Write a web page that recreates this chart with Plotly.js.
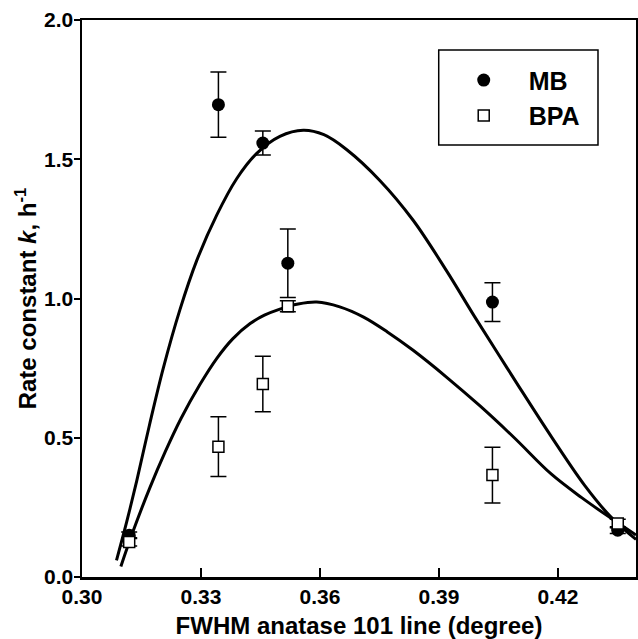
<!DOCTYPE html>
<html>
<head>
<meta charset="utf-8">
<script src="https://cdn.plot.ly/plotly-3.0.1.min.js"></script>
<style>html,body{margin:0;padding:0;background:#fff;}#chart{width:638px;height:639px;}</style>
</head>
<body>
<div id="chart"></div>
<script>
// Measured data points
var fwhm = [0.3119, 0.3344, 0.3456, 0.3519, 0.4035, 0.4351];
var mbK = [0.150, 1.696, 1.558, 1.127, 0.987, 0.168];
var mbErr = [0.012, 0.117, 0.043, 0.123, 0.070, 0.012];
var bpaK = [0.126, 0.468, 0.693, 0.972, 0.366, 0.192];
var bpaErr = [0.015, 0.107, 0.100, 0.020, 0.100, 0.015];

// Fitted curves
var mbFitX = [0.3087, 0.3113, 0.3138, 0.3170, 0.3205, 0.3247, 0.3289, 0.3340, 0.3390, 0.3440, 0.3499, 0.3558, 0.3610, 0.3667, 0.3751, 0.3835, 0.3919, 0.3990, 0.4050, 0.4099, 0.4183, 0.4267, 0.4334, 0.4397];
var mbFitY = [0.060, 0.200, 0.345, 0.545, 0.750, 0.960, 1.135, 1.300, 1.430, 1.520, 1.582, 1.604, 1.588, 1.535, 1.424, 1.281, 1.100, 0.935, 0.800, 0.690, 0.505, 0.330, 0.215, 0.135];
var bpaFitX = [0.3098, 0.3129, 0.3171, 0.3210, 0.3250, 0.3297, 0.3340, 0.3380, 0.3424, 0.3460, 0.3499, 0.3545, 0.3592, 0.3650, 0.3709, 0.3770, 0.3835, 0.3919, 0.4003, 0.4090, 0.4183, 0.4260, 0.4334, 0.4397];
var bpaFitY = [0.038, 0.165, 0.320, 0.450, 0.570, 0.690, 0.785, 0.855, 0.910, 0.940, 0.962, 0.980, 0.987, 0.970, 0.934, 0.880, 0.814, 0.718, 0.615, 0.500, 0.370, 0.285, 0.211, 0.151];

var xTickVals = [0.30, 0.33, 0.36, 0.39, 0.42];
var yTickVals = [0.0, 0.5, 1.0, 1.5, 2.0];
var seriesNames = ['MB', 'BPA'];

var FONT = 'Liberation Sans, Arial, Helvetica, sans-serif';

var traces = [
  {x: mbFitX, y: mbFitY, mode: 'lines', line: {color: '#000', width: 3, shape: 'spline', smoothing: 1}, showlegend: false, hoverinfo: 'skip'},
  {x: bpaFitX, y: bpaFitY, mode: 'lines', line: {color: '#000', width: 3, shape: 'spline', smoothing: 1}, showlegend: false, hoverinfo: 'skip'},
  {x: fwhm, y: mbK, name: seriesNames[0], mode: 'markers', type: 'scatter',
   marker: {symbol: 'circle', size: 13, color: '#000', line: {width: 0}},
   error_y: {type: 'data', array: mbErr, visible: true, thickness: 1.5, width: 8, color: '#000'}},
  {x: fwhm, y: bpaK, name: seriesNames[1], mode: 'markers', type: 'scatter',
   marker: {symbol: 'square', size: 11, color: '#fff', line: {width: 1.5, color: '#000'}},
   error_y: {type: 'data', array: bpaErr, visible: true, thickness: 1.5, width: 8, color: '#000'}}
];

var layout = {
  width: 638, height: 639,
  margin: {l: 82, r: 2, t: 20, b: 62},
  paper_bgcolor: '#fff', plot_bgcolor: '#fff',
  font: {family: FONT, color: '#000', size: 21, weight: 'bold'},
  showlegend: true,
  legend: {x: 0.6439, y: 0.933, xanchor: 'left', yanchor: 'top', bgcolor: 'rgba(0,0,0,0)', borderwidth: 0,
           itemwidth: 80, font: {family: FONT, size: 25, color: '#000', weight: 'bold'}, tracegroupgap: 0},
  xaxis: {
    range: [0.30, 0.4397], tickvals: xTickVals, ticktext: xTickVals.map(function(v){return v.toFixed(2);}),
    ticks: 'inside', ticklen: 9, tickwidth: 2, tickcolor: '#000',
    showline: true, linewidth: 2.5, linecolor: '#000', mirror: true,
    showgrid: false, zeroline: false, ticklabelstandoff: -1,
    tickfont: {family: FONT, size: 21, color: '#000', weight: 'bold'},
    title: {text: 'FWHM anatase 101 line (degree)', standoff: 12, font: {family: FONT, size: 24, color: '#000', weight: 'bold'}}
  },
  yaxis: {
    range: [0, 2], tickvals: yTickVals, ticktext: yTickVals.map(function(v){return v.toFixed(1);}),
    ticks: 'outside', ticklen: 6, tickwidth: 2, tickcolor: '#000',
    showline: true, linewidth: 2.5, linecolor: '#000', mirror: true,
    showgrid: false, zeroline: false, ticklabelstandoff: -4,
    tickfont: {family: FONT, size: 21, color: '#000', weight: 'bold'},
    title: {text: 'Rate constant <i>k</i>, h<sup>-1</sup>', standoff: 1, font: {family: FONT, size: 24, color: '#000', weight: 'bold'}}
  },
  yaxis2: {
    overlaying: 'y', anchor: 'x', side: 'left', range: [0, 2], tickvals: yTickVals,
    ticks: 'inside', ticklen: 7, tickwidth: 2, tickcolor: '#000',
    showticklabels: false, showline: false, showgrid: false, zeroline: false
  },
  shapes: [
    {type: 'rect', xref: 'paper', yref: 'paper', x0: 0.6439, x1: 0.9314, y0: 0.7756, y1: 0.9461,
     line: {color: '#000', width: 1.5}, fillcolor: 'rgba(0,0,0,0)'}
  ]
};

Plotly.newPlot('chart', traces, layout, {displayModeBar: false, staticPlot: true});
</script>
</body>
</html>
